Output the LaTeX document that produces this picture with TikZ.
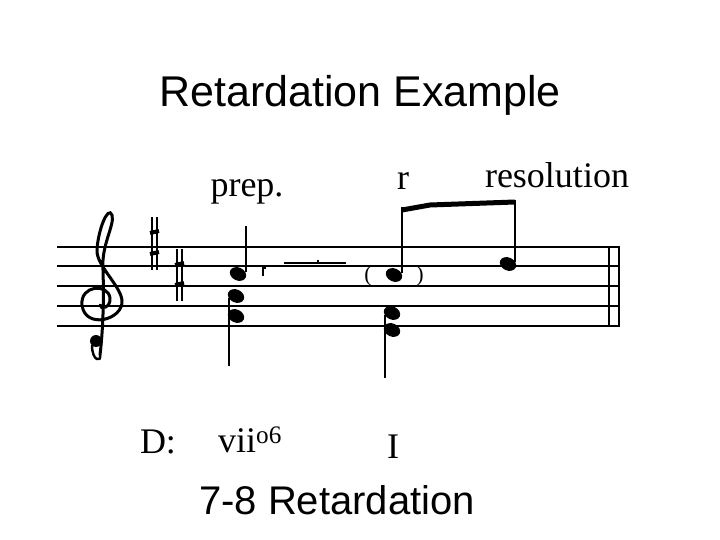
\documentclass[tikz,border=0pt]{standalone}
\usepackage{fontspec}
\setmainfont{Liberation Serif}
\newfontfamily\sansf{Liberation Sans}
\newcommand{\nh}[2]{\fill[rotate around={-25:(#1,#2)}] (#1,#2) ellipse [x radius=8.5, y radius=6.5];}
\begin{document}
\begin{tikzpicture}[x=1pt,y=-1pt,
  staff/.style={line width=1.6pt},
  stem/.style={line width=1.5pt},
  lbl/.style={font=\fontsize{36}{36}\selectfont},
  big/.style={font=\sansf\fontsize{43}{43}\selectfont}]
\useasboundingbox (0,0) rectangle (720,540);
\node[big] (title) at (360,95) {Retardation Example};
% staff
\foreach \y in {247,266,286,306,326} \draw[staff] (57,\y) -- (619,\y);
\draw[staff] (609,247) -- (609,326);
\draw[line width=2pt] (619,246) -- (619,327);
% treble clef
\draw[line width=3pt,line cap=round] (100,355) .. controls (103,330) and (104,300) .. (103,270)
  .. controls (101,245) and (115,225) .. (112,215) .. controls (108,205) and (98,230) .. (97,250)
  .. controls (96,265) and (120,285) .. (122,300) .. controls (124,320) and (85,330) .. (82,305)
  .. controls (80,285) and (108,283) .. (110,298) .. controls (111,308) and (100,310) .. (100,305);
\fill (96,341) circle (6);
\draw[line width=2.4pt] (100,355) .. controls (102,362) and (92,362) .. (92,345);
% sharps
\foreach \x/\yt/\yb in {155/217/270,180/249/301}{
  \draw[line width=2pt] (\x-3,\yt) -- (\x-3,\yb);
  \draw[line width=2pt] (\x+2,\yt) -- (\x+2,\yb);
  \draw[line width=4pt] (\x-5,\yt+16) -- (\x+4,\yt+14);
  \draw[line width=4pt] (\x-5,\yb-16) -- (\x+4,\yb-18);
}
% prep chord
\nh{238}{274}
\draw[stem] (246,272) -- (246,226);
\nh{236}{296}
\nh{236}{316}
\draw[stem] (229,298) -- (229,366);
% tie
\draw[line width=1.5pt] (263,276) -- (263,268) -- (266,268);
\draw[line width=1.5pt] (284,263) -- (346,263);
\draw[line width=1.5pt] (318,262) -- (318,260);
% r chord
\node[font=\fontsize{22}{22}\selectfont] (pl) at (368,276) {(};
\node[font=\fontsize{22}{22}\selectfont] (pr) at (420,276) {)};
\nh{394}{275}
\draw[stem] (402,273) -- (402,207);
\nh{392}{313}
\nh{392}{330}
\draw[stem] (385,315) -- (385,378);
% beam and resolution
\draw[line width=5pt] (402,210) -- (430,205) -- (515,202);
\nh{508}{264}
\draw[stem] (515,262) -- (515,200);
% labels
\node[lbl] (prep) at (247,192) {prep.};
\node[lbl] (r) at (403,181) {r};
\node[lbl] (res) at (557,175) {resolution};
\node[lbl] (d) at (158,442) {D:};
\node[lbl] (vii) at (250,440) {vii$^{\mathrm{o6}}$};
\node[lbl] (one) at (393,447) {I};
\node[font=\sansf\fontsize{40}{40}\selectfont] (sub) at (337,500) {7-8 Retardation};
\end{tikzpicture}
\end{document}
